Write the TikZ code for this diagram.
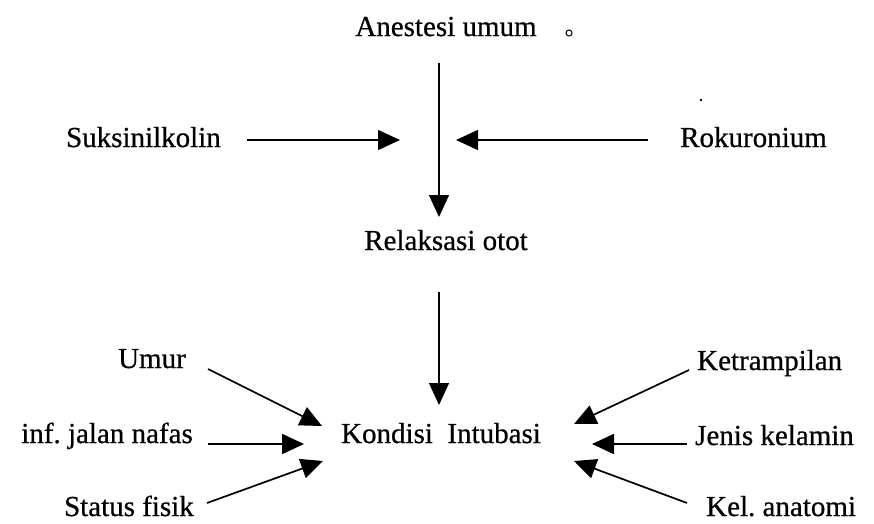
\documentclass[tikz,border=0pt]{standalone}
\usepackage{fontspec}
\setmainfont{Liberation Serif}
\newfontfamily\scanfont[FakeBold=0.6]{Liberation Serif}
\usetikzlibrary{arrows.meta,calc}
\frenchspacing
\begin{document}
\begin{tikzpicture}[x=1pt,y=-1pt,
  lbl/.style={inner sep=0pt,font=\scanfont\fontsize{29}{34}\selectfont\frenchspacing},
  arr/.style={-{Triangle[length=22pt,width=20pt]},line width=1.4pt},
  arrb/.style={arr,line width=2pt}]
\useasboundingbox (0,0) rectangle (874,523);
% texts
\node[lbl,anchor=base] (anes) at (446,36) {Anestesi umum};
\node[lbl,anchor=base east] (suks) at (221,147) {Suksinilkolin};
\node[lbl,anchor=base west] (roku) at (680,147) {Rokuronium};
\node[lbl,anchor=base] (relak) at (446,250) {Relaksasi otot};
\node[lbl,anchor=base] (kond) at (441,443) {Kondisi~~Intubasi};
\node[lbl,anchor=base east] (umur) at (186,368) {Umur};
\node[lbl,anchor=base east] (inf) at (193,443) {inf. jalan nafas};
\node[lbl,anchor=base east] (stat) at (194,516) {Status fisik};
\node[lbl,anchor=base west] (ketr) at (697,370) {Ketrampilan};
\node[lbl,anchor=base west] (jeni) at (695,445) {Jenis kelamin};
\node[lbl,anchor=base west] (kela) at (706,516) {Kel. anatomi};
% small marks
\draw[line width=1pt] (569,33) circle (3);
\fill (701,100) circle (1.3);
% junction on the vertical line
\coordinate (j1) at (439,140);
% vertical arrows
\draw[arr] ($(anes.base)+(-7,27)$) -- ($(relak.base)+(-7,-33)$);
\draw[arr] ($(relak.base)+(-7,42)$) -- ($(kond.base)+(-2,-38)$);
% side arrows to the junction
\draw[arr] ($(suks.base east)+(26,-7)$) -- ($(j1)+(-39,0)$);
\draw[arr] ($(roku.base west)+(-32,-7)$) -- ($(j1)+(17,0)$);
% factors to Kondisi Intubasi
\draw[arr,line width=1.7pt] ($(umur.base east)+(22,1)$) -- ($(kond.base)+(-119,-17)$);
\draw[arrb] ($(inf.base east)+(15,1)$) -- ($(kond.base)+(-137,1)$);
\draw[arr,line width=1.7pt] ($(stat.base east)+(13,-13)$) -- ($(kond.base)+(-118,18)$);
\draw[arr,line width=1.7pt] ($(ketr.base west)+(-8,0)$) -- ($(kond.base)+(133,-19)$);
\draw[arrb] ($(jeni.base west)+(-8,-1)$) -- ($(kond.base)+(151,1)$);
\draw[arr,line width=1.7pt] ($(kela.base west)+(-19,-13)$) -- ($(kond.base)+(133,18)$);
\end{tikzpicture}
\end{document}
